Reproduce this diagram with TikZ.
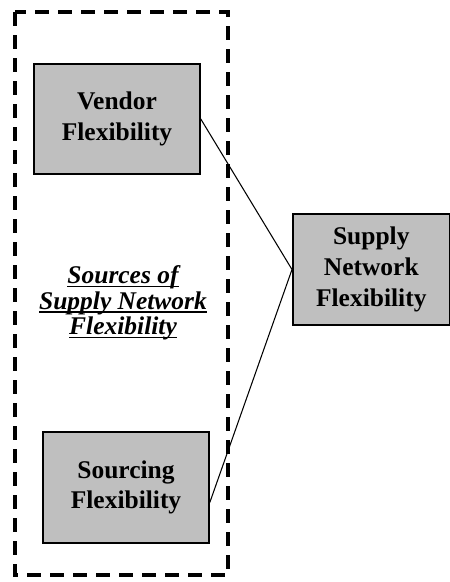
\documentclass[tikz,border=0pt]{standalone}
\usepackage{fontspec}
\setmainfont{Liberation Serif}
\usepackage{tikz}
\usetikzlibrary{calc}

\newcommand{\srcline}[1]{\setbox0\hbox{#1}\rlap{\rule[-2pt]{\wd0}{0.8pt}}\box0}

\tikzset{
  flexbox/.style={draw=black, line width=0.9pt, fill=black!25, align=center,
    font=\fontsize{14.5}{17.5}\selectfont\bfseries, inner sep=0pt},
  sourcebox/.style={draw=black, line width=1.9pt, dash pattern=on 2.7mm off 1.9mm}
}

\begin{document}
\begin{tikzpicture}[x=0.2mm,y=-0.2mm]
   \useasboundingbox (0,0) rectangle (449,582);
   % dashed frame round the sources
   \draw[sourcebox] (15,12) rectangle (228,575);
   \node[flexbox, minimum width=33.2mm, minimum height=22mm] (vendor) at (117,119) {Vendor\\Flexibility};
   \node[flexbox, minimum width=33.2mm, minimum height=22.2mm] (sourcing) at (126,487.5) {Sourcing\\Flexibility};
   \node[flexbox, minimum width=31.4mm, minimum height=22.2mm, anchor=west] (supply) at (292,269.5) {Supply\\Network\\Flexibility};
   \node[align=center, font=\fontsize{14.5}{14.5}\selectfont\bfseries\itshape] (sources) at (123,303)
      {\srcline{Sources of}\\\srcline{Supply Network}\\\srcline{Flexibility}};
   \draw[line width=0.6pt] (vendor.east) -- (supply.west);
   \draw[line width=0.6pt] ([yshift=-3mm]sourcing.east) -- (supply.west);
\end{tikzpicture}
\end{document}
